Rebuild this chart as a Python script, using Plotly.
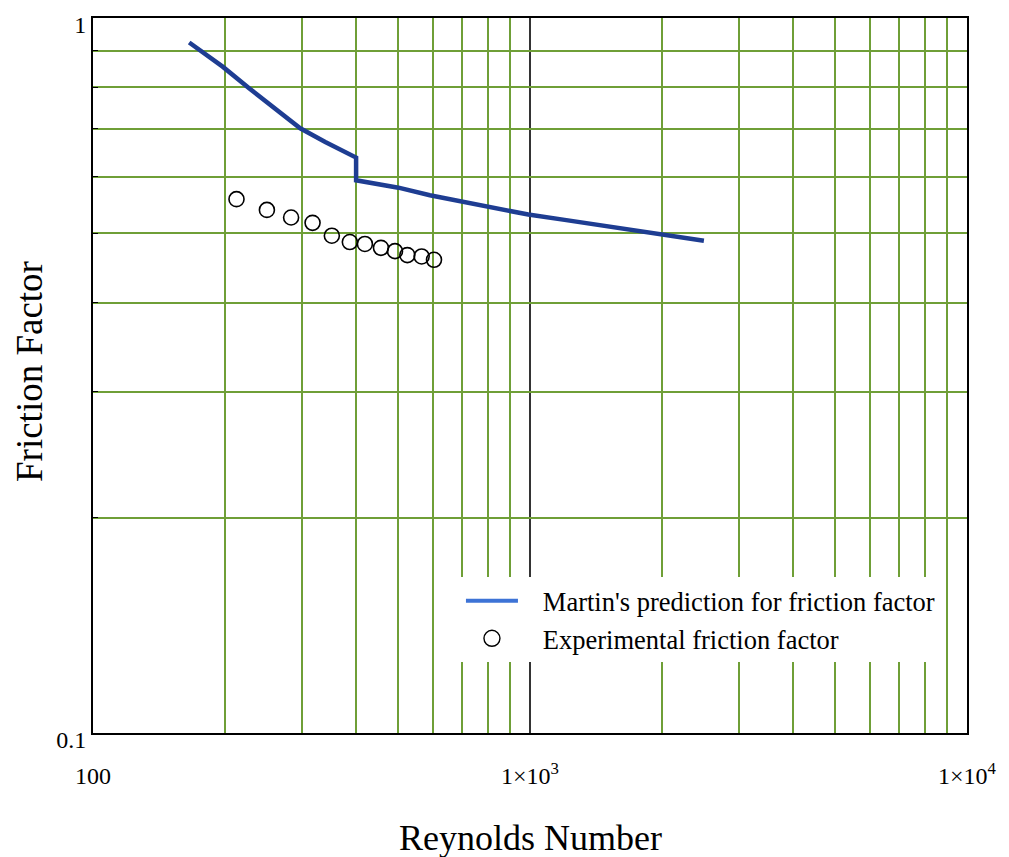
import plotly.graph_objects as go

# Martin's prediction
martin_re = [166, 180, 198, 228, 260, 298, 340, 380, 400, 400, 450, 500, 590, 700, 800, 991, 1200, 1500, 2000, 2500]
martin_f = [0.924, 0.892, 0.855, 0.797, 0.748, 0.701, 0.671, 0.648, 0.638, 0.593, 0.585, 0.579, 0.565, 0.553, 0.545, 0.531, 0.522, 0.511, 0.498, 0.488]

# Experimental friction factor
exp_re = [213, 250, 284, 318, 352, 387, 419, 456, 491, 524, 565, 603]
exp_f = [0.558, 0.539, 0.526, 0.517, 0.496, 0.486, 0.483, 0.477, 0.472, 0.466, 0.464, 0.459]

x_major = [100, 1000, 10000]
x_major_text = ["100", "1×10<sup>3</sup>", "1×10<sup>4</sup>"]
x_minor = [200, 300, 400, 500, 600, 700, 800, 900, 2000, 3000, 4000, 5000, 6000, 7000, 8000, 9000]
y_major = [0.1, 1.0]
y_major_text = ["0.1", "1"]
y_minor = [0.2, 0.3, 0.4, 0.5, 0.6, 0.7, 0.8, 0.9]

GRID = "#6f9f37"
FONT = "Liberation Serif"
PAD = 8  # default body margin of the html page

fig = go.Figure()
fig.add_trace(go.Scatter(x=martin_re, y=martin_f, mode="lines",
                         line=dict(color="#1e3d92", width=4.5), showlegend=False))
fig.add_trace(go.Scatter(x=exp_re, y=exp_f, mode="markers",
                         marker=dict(symbol="circle-open", size=15, color="black", line=dict(width=1.6, color="black")),
                         showlegend=False))
# legend entries
fig.add_trace(go.Scatter(x=[None], y=[None], mode="lines", name="\u00a0\u00a0\u00a0Martin's prediction for friction factor",
                         line=dict(color="#3d73d6", width=4)))
fig.add_trace(go.Scatter(x=[None], y=[None], mode="markers", name="\u00a0\u00a0\u00a0Experimental friction factor",
                         marker=dict(symbol="circle-open", size=16, color="black", line=dict(width=1.4, color="black"))))

fig.add_shape(type="line", xref="x", yref="paper", x0=1000, x1=1000, y0=0, y1=1,
              line=dict(color="black", width=1.6), layer="below")

fig.update_xaxes(type="log", range=[2, 4], tickmode="array", tickvals=x_major, ticktext=x_major_text,
                 showgrid=False, ticks="", ticklabelstandoff=20, automargin=False,
                 minor=dict(tickmode="array", tickvals=x_minor, showgrid=True, gridcolor=GRID, gridwidth=1.8, ticks=""),
                 showline=True, linecolor="black", linewidth=2, mirror=True, zeroline=False,
                 tickfont=dict(family=FONT, size=24, color="black"))
fig.update_yaxes(type="log", range=[-1, 0], tickmode="array", tickvals=y_major, ticktext=y_major_text,
                 showgrid=False, ticks="", automargin=False, ticklabelshift=7, ticklabeloverflow="allow",
                 minor=dict(tickmode="array", tickvals=y_minor, showgrid=True, gridcolor=GRID, gridwidth=1.8,
                            ticks="inside", ticklen=5, tickcolor="black"),
                 showline=True, linecolor="black", linewidth=2, mirror=True, zeroline=False,
                 tickfont=dict(family=FONT, size=24, color="black"))

fig.add_annotation(text="Reynolds Number", xref="paper", yref="paper", x=0.5, y=-0.147,
                   xanchor="center", yanchor="middle", showarrow=False,
                   font=dict(family=FONT, size=36, color="black"))
fig.add_annotation(text="Friction Factor", xref="paper", yref="paper", x=-0.072, y=0.505,
                   xanchor="center", yanchor="middle", textangle=-90, showarrow=False,
                   font=dict(family=FONT, size=37, color="black"))

fig.update_layout(
    width=1009 - PAD, height=857 - PAD,
    margin=dict(l=93 - PAD, r=42, t=18 - PAD, b=124, autoexpand=False),
    plot_bgcolor="white", paper_bgcolor="white",
    legend=dict(x=0.421, y=0.218, xanchor="left", yanchor="top", bgcolor="white",
                font=dict(family=FONT, size=26.5, color="black"), itemwidth=52,
                tracegroupgap=0),
)

fig.write_html("out.html")
